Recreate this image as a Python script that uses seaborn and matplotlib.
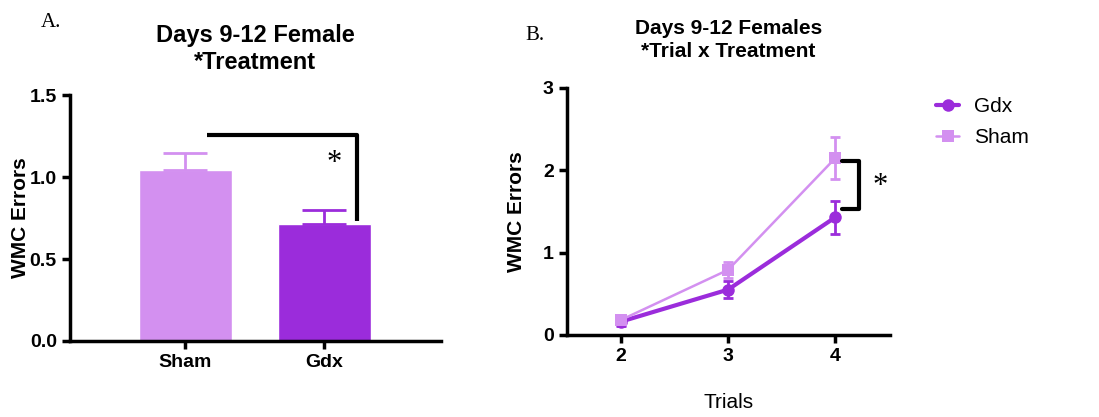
import numpy as np
import pandas as pd
import matplotlib
matplotlib.use('Agg')
import matplotlib.pyplot as plt
import seaborn as sns

# Panel A: bar means and SEM
groups = ['Sham', 'Gdx']
bar_means = [1.04, 0.715]
bar_sem = [0.105, 0.085]

# Panel B: errors over trials
trials = [2, 3, 4]
gdx_means = [0.16, 0.55, 1.43]
gdx_sem = [0.05, 0.10, 0.20]
sham_means = [0.18, 0.79, 2.15]
sham_sem = [0.04, 0.10, 0.25]

sham_color = '#D390F0'
gdx_color = '#9B2CDB'

sns.set_style('ticks')
plt.rcParams['font.family'] = ['Liberation Sans', 'DejaVu Sans']
for k in ('text.color', 'axes.labelcolor', 'xtick.color', 'ytick.color',
          'axes.edgecolor'):
    plt.rcParams[k] = 'black'

fig = plt.figure(figsize=(10.99, 4.17), dpi=100)
axA = fig.add_axes([0.0637, 0.1823, 0.3373, 0.5897])
axB = fig.add_axes([0.516, 0.197, 0.294, 0.592])

# ---- Panel A ----
dfA = pd.DataFrame({'group': groups, 'errors': bar_means})
sns.barplot(data=dfA, x='group', y='errors', hue='group', order=groups,
            palette=[sham_color, gdx_color], width=0.67, errorbar=None,
            legend=False, ax=axA, saturation=1)
for i, (m, s) in enumerate(zip(bar_means, bar_sem)):
    c = sham_color if groups[i] == 'Sham' else gdx_color
    axA.errorbar(i, m, yerr=[[0], [s]], color=c, capsize=16, elinewidth=2,
                 capthick=2, fmt='none')
axA.set_xlim(-0.83, 1.84)
axA.set_ylim(0, 1.5)
axA.set_yticks([0, 0.5, 1.0, 1.5])
axA.set_yticklabels(['0.0', '0.5', '1.0', '1.5'])
axA.set_xlabel('')
axA.set_ylabel('WMC Errors', fontsize=15, fontweight='bold', labelpad=0)
axA.set_title('Days 9-12 Female\n*Treatment', fontsize=17, fontweight='bold',
              pad=19, linespacing=1.2)
# significance bracket
axA.plot([0.16, 1.24, 1.24], [1.255, 1.255, 0.73], color='black', lw=3,
         solid_capstyle='butt', clip_on=False)
axA.text(1.07, 1.08, '*', fontsize=22, family='Liberation Serif',
         ha='center', va='center')

# ---- Panel B ----
dfG = pd.DataFrame({'trial': trials, 'errors': gdx_means})
dfS = pd.DataFrame({'trial': trials, 'errors': sham_means})
axB.errorbar(trials, sham_means, yerr=sham_sem, color=sham_color, capsize=3.5,
             elinewidth=2, capthick=2, fmt='none')
axB.errorbar(trials, gdx_means, yerr=gdx_sem, color=gdx_color, capsize=3.5,
             elinewidth=2, capthick=2, fmt='none')
sns.lineplot(data=dfG, x='trial', y='errors', color=gdx_color, marker='o',
             markersize=9, markeredgewidth=0, lw=3, label='Gdx', ax=axB)
sns.lineplot(data=dfS, x='trial', y='errors', color=sham_color, marker='s',
             markersize=8, markeredgewidth=0, lw=1.8, label='Sham', ax=axB)
axB.set_xlim(1.5, 4.51)
axB.set_ylim(0, 3)
axB.set_xticks(trials)
axB.set_yticks([0, 1, 2, 3])
axB.set_xlabel('Trials', fontsize=15, va='center')
axB.xaxis.set_label_coords(0.5, -0.275)
axB.set_ylabel('WMC Errors', fontsize=15, fontweight='bold', labelpad=12)
axB.set_title('Days 9-12 Females\n*Trial x Treatment', fontsize=15,
              fontweight='bold', pad=22, linespacing=1.3)
axB.plot([4.06, 4.22, 4.22, 4.06], [2.11, 2.11, 1.53, 1.53], color='black',
         lw=3, clip_on=False)
axB.text(4.42, 1.8, '*', fontsize=22, family='Liberation Serif',
         ha='center', va='center')
axB.legend(loc='upper left', bbox_to_anchor=(1.085, 1.04), frameon=False,
           fontsize=15, handlelength=1.1, handletextpad=0.7, labelspacing=0.6)

for ax in (axA, axB):
    sns.despine(ax=ax)
    for sp in ('left', 'bottom'):
        ax.spines[sp].set_linewidth(2.5)
    ax.tick_params(width=2.5, length=6, labelsize=14)
    for lab in ax.get_xticklabels() + ax.get_yticklabels():
        lab.set_fontweight('bold')

fig.text(0.037, 0.935, 'A.', fontsize=15, family='Liberation Serif')
fig.text(0.478, 0.905, 'B.', fontsize=15, family='Liberation Serif')

fig.savefig('out.png', dpi=100)
